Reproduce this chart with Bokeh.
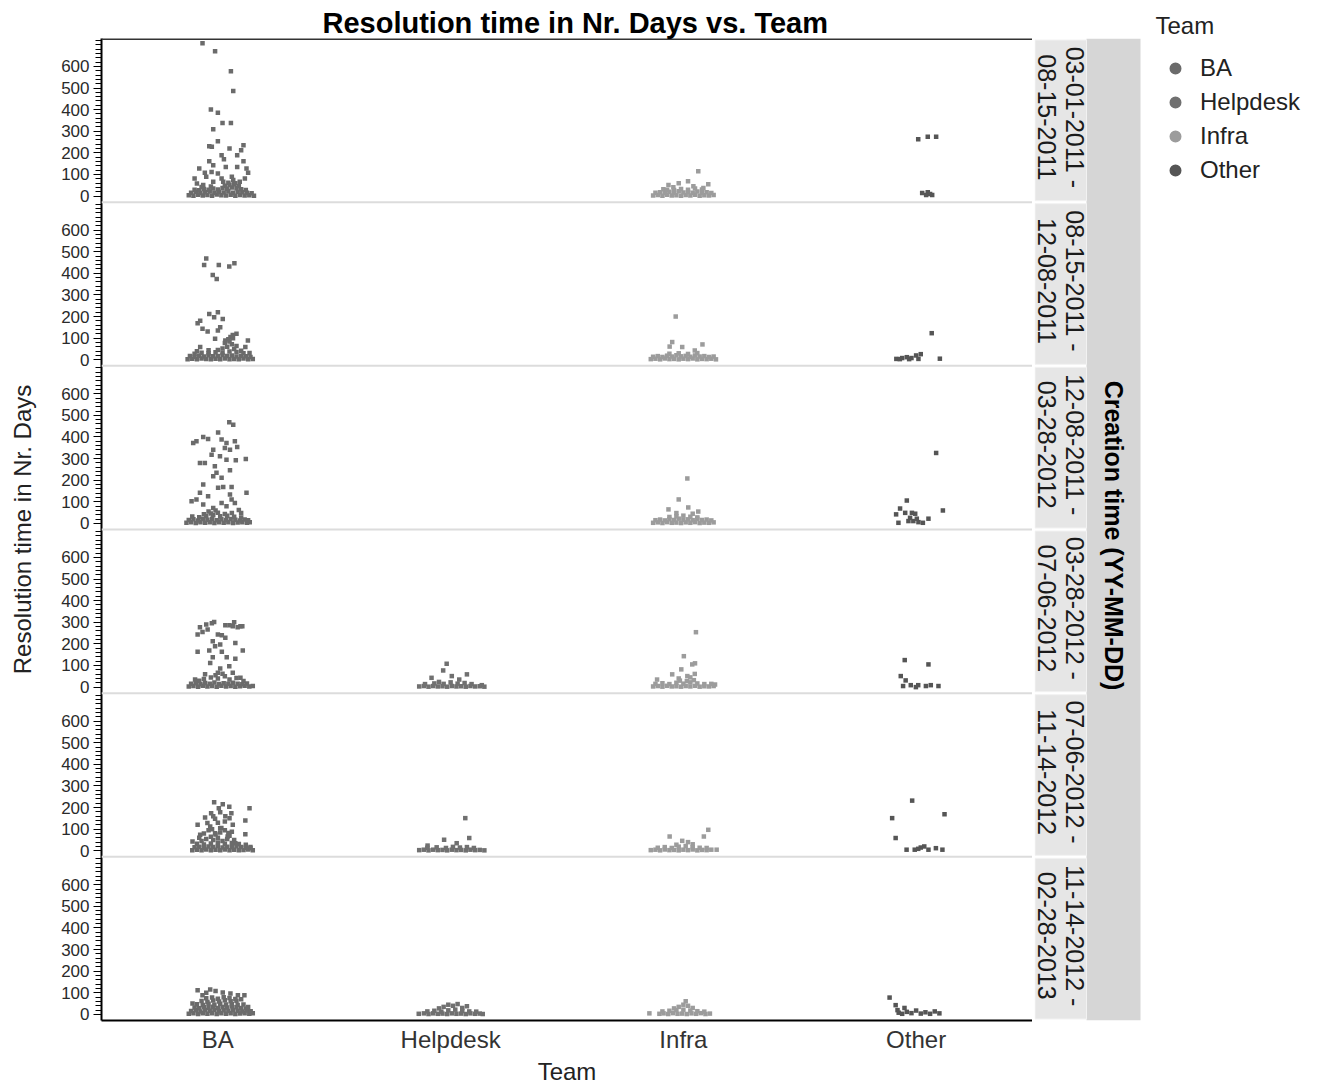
import math
from bokeh.plotting import figure
from bokeh.models import Range1d, FixedTicker, Span, Legend, LegendItem
from bokeh.layouts import row
from bokeh.embed import file_html
from bokeh.resources import INLINE
from bokeh.core.properties import value

# ---------------- data ----------------
TEAMS = ["BA", "Helpdesk", "Infra", "Other"]
TEAM_COLORS = ["#6b6b6b", "#707070", "#9c9c9c", "#555555"]
PERIODS = ["03-01-2011 -\n08-15-2011", "08-15-2011 -\n12-08-2011", "12-08-2011 -\n03-28-2012",
           "03-28-2012 -\n07-06-2012", "07-06-2012 -\n11-14-2012", "11-14-2012 -\n02-28-2013"]
Y_TICKS = [0, 100, 200, 300, 400, 500, 600]
Y_MINOR = list(range(0, 721, 20))

# (jitter in category units, resolution days)
P1_BA = [(-0.066,707),(-0.012,670),(0.056,578),(0.066,486),(-0.03,401),(0.0,386),(0.02,338),(0.056,338),
         (-0.02,309),(-0.037,231),(-0.026,228),(0.0,254),(0.05,220),(0.11,235),(0.10,212),(0.016,189),
         (0.026,171),(0.083,189),(-0.037,161),(0.11,161),(-0.08,128),(-0.02,143),(0.034,135),(0.083,135),
         (0.123,128),(-0.056,108),(-0.027,112),(0.0,105),(0.13,108),(-0.10,82),(-0.05,89),(0.016,82),
         (0.06,89),(0.116,82),(-0.09,58),(-0.063,51),(-0.02,66),(0.023,66),(0.066,74),(0.094,66)]
P1_BA_BASE = [(-0.125,4),(-0.105,2),(-0.085,6),(-0.065,3),(-0.045,5),(-0.025,2),(-0.005,7),(0.015,4),
              (0.035,3),(0.055,6),(0.075,2),(0.095,5),(0.115,3),(0.135,4),(0.155,2),
              (-0.115,16),(-0.095,20),(-0.075,14),(-0.055,18),(-0.035,21),(-0.015,15),(0.005,19),(0.025,17),
              (0.045,22),(0.065,16),(0.085,20),(0.105,18),(0.125,15),(0.145,13),
              (-0.10,30),(-0.08,27),(-0.06,33),(-0.04,29),(-0.02,35),(0.0,31),(0.02,38),(0.04,34),
              (0.06,40),(0.08,36),(0.10,32),(0.12,28),
              (0.03,48),(0.05,52),(0.07,55),(0.09,46),(0.045,62),(0.075,60),(-0.03,45),(-0.07,42)]
P1_IN = [(0.064,115),(0.02,69),(-0.02,60),(-0.064,51),(0.107,55),(0.043,46),(-0.086,32),(0.086,37),(-0.043,41),
         (-0.13,3),(-0.11,5),(-0.09,2),(-0.07,6),(-0.05,3),(-0.03,4),(-0.01,2),(0.01,5),(0.03,3),(0.05,6),
         (0.07,2),(0.09,4),(0.11,3),(0.13,5),
         (-0.12,15),(-0.10,18),(-0.08,14),(-0.06,20),(-0.04,16),(-0.02,22),(0.0,17),(0.02,19),(0.04,15),
         (0.06,21),(0.08,16),(0.10,18),(0.12,14),
         (-0.07,30),(-0.04,28),(-0.01,33),(0.02,29),(0.05,35),(0.08,31)]
P1_OT = [(0.009,263),(0.05,275),(0.086,275),(0.026,14),(0.05,18),(0.069,5),(0.043,5),(0.06,10)]

P2_BA = [(-0.05,469),(-0.059,438),(0.004,438),(0.049,431),(0.071,446),(-0.022,392),(-0.005,374),(-0.037,212),
         (0.0,220),(-0.016,197),(0.021,189),(-0.076,181),(-0.087,169),(-0.066,143),(-0.044,131),(0.0,135),
         (0.01,151),(-0.012,97),(0.064,115),(0.129,89),(0.032,89),(-0.076,59),(0.118,59),(0.136,31),
         (0.054,105),(0.08,120)]
P2_BA_BASE = [(-0.13,3),(-0.11,5),(-0.09,2),(-0.07,6),(-0.05,4),(-0.03,2),(-0.01,5),(0.01,3),(0.03,6),
              (0.05,2),(0.07,4),(0.09,3),(0.11,6),(0.13,2),(0.15,4),
              (-0.12,17),(-0.10,14),(-0.08,19),(-0.06,15),(-0.04,21),(-0.02,16),(0.0,18),(0.02,22),(0.04,17),
              (0.06,20),(0.08,15),(0.10,19),(0.12,16),(0.14,13),
              (-0.10,28),(-0.07,32),(-0.04,30),(-0.01,35),(0.02,33),(0.05,38),(0.08,36),(0.11,30),
              (0.0,45),(0.02,52),(0.04,60),(0.06,72),(0.08,64),(0.05,85),(0.03,78),(0.07,50),(-0.04,44),
              (-0.09,40),(0.10,42),(0.045,95),(0.065,100)]
P2_IN = [(-0.033,200),(-0.048,82),(-0.059,61),(0.082,71),(-0.005,59),(0.049,43),
         (-0.14,3),(-0.12,5),(-0.10,2),(-0.08,6),(-0.06,3),(-0.04,4),(-0.02,2),(0.0,5),(0.02,3),(0.04,6),
         (0.06,2),(0.08,4),(0.10,3),(0.12,5),(0.14,2),
         (-0.13,14),(-0.11,17),(-0.09,13),(-0.07,19),(-0.05,15),(-0.03,21),(-0.01,16),(0.01,18),(0.03,14),
         (0.05,20),(0.07,15),(0.09,17),(0.11,13),(0.13,15),
         (-0.06,28),(-0.02,30),(0.02,27),(0.06,31)]
P2_OT = [(0.067,123),(0.102,5),(-0.085,4),(-0.06,8),(-0.04,12),(-0.02,8),(0.0,20),(0.02,26),(-0.07,3),
         (-0.03,3),(0.01,4)]

P3_BA = [(0.049,468),(0.066,457),(0.001,421),(-0.063,400),(-0.042,391),(-0.092,380),(-0.106,372),(0.016,388),
         (0.037,372),(0.073,380),(0.083,354),(0.03,349),(-0.02,341),(0.052,341),(-0.027,318),(0.009,311),
         (0.037,295),(0.077,292),(0.12,298),(-0.077,280),(-0.056,280),(-0.013,264),(0.052,246),(-0.006,234),
         (-0.02,218),(0.016,211),(-0.063,180),(0.001,165),(0.023,169),(0.059,169),(0.123,142),(-0.077,142),
         (-0.042,126),(-0.092,111),(-0.113,103),(0.052,134),(0.073,95),(-0.063,88),(0.016,95),(0.037,80),
         (-0.02,72),(0.059,111),(-0.01,60),(-0.04,55),(0.09,62),(0.10,48)]
P3_BA_BASE = [(-0.135,3),(-0.115,5),(-0.095,2),(-0.075,6),(-0.055,3),(-0.035,5),(-0.015,2),(0.005,6),
              (0.025,3),(0.045,5),(0.065,2),(0.085,4),(0.105,6),(0.125,3),(0.137,5),
              (-0.125,16),(-0.105,19),(-0.085,14),(-0.065,20),(-0.045,17),(-0.025,22),(-0.005,15),(0.015,19),
              (0.035,16),(0.055,21),(0.075,17),(0.095,14),(0.115,18),(0.13,15),
              (-0.11,32),(-0.08,29),(-0.05,34),(-0.02,38),(0.01,33),(0.04,36),(0.07,31),(0.10,28),
              (-0.03,46),(0.0,50),(0.03,44),(0.06,48),(-0.06,42)]
P3_IN = [(0.017,208),(-0.02,111),(0.021,74),(-0.064,65),(0.064,55),(0.04,45),(-0.03,48),
         (-0.13,3),(-0.11,5),(-0.09,2),(-0.07,6),(-0.05,3),(-0.03,4),(-0.01,2),(0.01,5),(0.03,3),(0.05,6),
         (0.07,2),(0.09,4),(0.11,3),(0.13,5),
         (-0.12,15),(-0.10,18),(-0.08,14),(-0.06,20),(-0.04,16),(-0.02,22),(0.0,17),(0.02,19),(0.04,15),
         (0.06,21),(0.08,16),(0.10,18),(0.12,14),
         (-0.06,30),(-0.03,33),(0.0,36),(0.03,31),(0.06,28)]
P3_OT = [(0.086,326),(0.115,60),(-0.04,106),(-0.069,69),(-0.086,42),(-0.047,49),(-0.018,49),(-0.004,45),
         (-0.026,26),(-0.033,11),(-0.012,11),(0.01,6),(0.029,3),(0.053,22),(-0.076,3),(0.003,22)]

P4_BA = [(-0.016,301),(0.032,286),(0.064,281),(0.097,281),(-0.044,266),(-0.087,243),(-0.066,255),(0.0,243),
         (0.032,228),(0.075,204),(-0.022,212),(0.01,197),(-0.012,189),(-0.087,163),(-0.037,169),(0.107,169),
         (0.017,163),(-0.022,138),(0.038,138),(0.075,131),(-0.033,112),(0.049,97),(0.01,86),(-0.055,59),
         (0.0,66),(0.064,66),(-0.098,35),(0.097,43),(0.05,286),(0.085,277),(0.105,281),(-0.077,277),
         (-0.026,295),(0.017,240),(-0.05,290),(0.07,300)]
P4_BA_BASE = [(-0.125,3),(-0.105,5),(-0.085,2),(-0.065,6),(-0.045,3),(-0.025,5),(-0.005,2),(0.015,6),
              (0.035,3),(0.055,5),(0.075,2),(0.095,4),(0.115,6),(0.135,3),(0.15,5),
              (-0.115,15),(-0.095,18),(-0.075,13),(-0.055,19),(-0.035,16),(-0.015,21),(0.005,14),(0.025,18),
              (0.045,15),(0.065,20),(0.085,16),(0.105,13),(0.125,17),
              (0.0,40),(0.03,50),(-0.03,45),(0.05,35),(-0.06,38),(0.08,42),(0.02,62),(-0.01,55),
              (-0.08,30),(0.11,28)]
P4_HD = [(-0.017,108),(-0.032,77),(0.005,51),(0.07,59),(-0.082,43),(0.037,35),(0.134,9),
         (-0.135,3),(-0.115,5),(-0.095,2),(-0.075,5),(-0.055,3),(-0.035,4),(-0.015,2),(0.005,5),(0.025,3),
         (0.045,4),(0.065,2),(0.085,5),(0.105,3),(0.125,4),(0.145,2),
         (-0.11,14),(-0.07,17),(-0.03,15),(0.0,22),(0.03,16),(0.06,19),(0.09,14),(-0.05,24)]
P4_IN = [(0.054,254),(0.002,143),(0.038,105),(0.05,110),(-0.009,82),(-0.048,59),(0.049,61),(-0.113,35),
         (0.017,51),(0.136,12),(0.03,45),(-0.02,40),
         (-0.13,3),(-0.11,5),(-0.09,2),(-0.07,6),(-0.05,3),(-0.03,4),(-0.01,2),(0.01,5),(0.03,3),(0.05,6),
         (0.07,2),(0.09,4),(0.11,3),(0.13,5),
         (-0.12,15),(-0.09,18),(-0.06,14),(-0.03,20),(0.0,16),(0.03,22),(0.06,17),(0.09,14),(0.12,15),
         (0.045,32),(0.015,28),(-0.015,30)]
P4_OT = [(-0.049,125),(0.053,105),(-0.066,51),(-0.045,31),(-0.056,5),(-0.023,9),(0.009,9),(0.042,5),
         (0.063,9),(0.096,5),(-0.001,0)]

P5_BA = [(-0.016,225),(0.021,215),(0.049,204),(0.136,197),(0.004,197),(-0.029,174),(0.01,178),(0.058,174),
         (-0.055,154),(-0.012,148),(0.118,140),(0.032,160),(-0.087,120),(-0.033,112),(0.01,104),(0.064,120),
         (0.118,77),(-0.076,74),(-0.012,81),(0.042,66),(-0.109,43),(0.075,35),(0.14,12),(0.0,130),(0.03,135),
         (-0.045,128),(0.05,150),(-0.02,160),
         (-0.07,45),(-0.05,55),(-0.03,65),(-0.01,75),(0.01,85),(0.03,95),(0.05,70),(0.07,50),(-0.06,80),
         (-0.04,95),(-0.02,50),(0.0,60),(0.02,45),(0.04,55),(0.06,88),(-0.08,60),(0.015,105),(-0.025,100),
         (0.045,82)]
P5_BA_BASE = [(-0.11,3),(-0.09,5),(-0.07,2),(-0.05,6),(-0.03,3),(-0.01,5),(0.01,2),(0.03,6),(0.05,3),
              (0.07,5),(0.09,2),(0.11,4),(0.13,6),(0.15,3),
              (-0.10,16),(-0.08,19),(-0.06,14),(-0.04,20),(-0.02,17),(0.0,22),(0.02,15),(0.04,19),(0.06,16),
              (0.08,21),(0.10,17),(0.12,14),(0.14,18),
              (-0.09,32),(-0.06,29),(-0.03,34),(0.0,38),(0.03,33),(0.06,36),(0.09,31),(0.12,28)]
P5_HD = [(0.063,151),(0.08,59),(-0.028,51),(0.026,35),(-0.099,24),
         (-0.135,3),(-0.115,5),(-0.095,2),(-0.075,5),(-0.055,3),(-0.035,4),(-0.015,2),(0.005,5),(0.025,3),
         (0.045,4),(0.065,2),(0.085,5),(0.105,3),(0.125,4),(0.145,2),
         (-0.10,14),(-0.06,16),(-0.02,13),(0.01,18),(0.04,15),(0.07,17),(0.10,13)]
P5_IN = [(0.107,97),(0.088,66),(-0.059,66),(-0.005,46),(0.143,5),(0.02,40),(0.04,30),(-0.03,28),
         (-0.14,3),(-0.12,5),(-0.10,2),(-0.08,6),(-0.06,3),(-0.04,4),(-0.02,2),(0.0,5),(0.02,3),(0.04,6),
         (0.06,2),(0.08,4),(0.10,3),(0.12,5),
         (-0.11,14),(-0.08,17),(-0.05,13),(-0.02,19),(0.01,22),(0.04,16),(0.07,14),(0.10,13)]
P5_OT = [(-0.017,232),(0.122,169),(-0.103,151),(-0.088,59),(-0.041,5),(-0.006,5),(0.02,15),(0.035,20),
         (0.053,5),(0.085,12),(0.113,5),(0.009,9)]

P6_BA = [(-0.087,112),(-0.033,115),(-0.01,108),(0.021,101),(0.054,97),(0.086,89),(0.114,89),(-0.066,89),
         (-0.109,51),(0.13,35),(0.14,15),(0.10,70),(-0.05,100)]
P6_BA_BASE = [(-0.125,3),(-0.105,5),(-0.085,2),(-0.065,6),(-0.045,3),(-0.025,5),(-0.005,2),(0.015,6),
              (0.035,3),(0.055,5),(0.075,2),(0.095,4),(0.115,6),(0.135,3),(0.15,5),
              (-0.115,16),(-0.095,19),(-0.075,14),(-0.055,20),(-0.035,17),(-0.015,22),(0.005,15),(0.025,19),
              (0.045,16),(0.065,21),(0.085,17),(0.105,14),(0.125,18),(0.14,15),
              (-0.10,32),(-0.08,29),(-0.06,34),(-0.04,31),(-0.02,36),(0.0,30),(0.02,35),(0.04,32),(0.06,37),
              (0.08,33),(0.10,30),(0.12,28),
              (-0.09,47),(-0.065,44),(-0.04,49),(-0.015,45),(0.01,50),(0.035,46),(0.06,48),(0.085,44),(0.11,46),
              (-0.07,62),(-0.045,58),(-0.02,64),(0.005,60),(0.03,66),(0.055,61),(0.08,63),
              (-0.05,75),(-0.025,78),(0.0,73),(0.025,80),(0.05,76),(0.075,72)]
P6_HD = [(-0.03,35),(-0.01,45),(0.01,40),(0.03,48),(0.05,30),(0.07,38),(-0.05,28),
         (-0.137,3),(-0.115,5),(-0.095,2),(-0.075,5),(-0.055,3),(-0.035,4),(-0.015,2),(0.005,5),(0.025,3),
         (0.045,4),(0.065,2),(0.085,5),(0.105,3),(0.125,4),(0.138,2),
         (-0.10,14),(-0.07,17),(-0.04,13),(-0.01,19),(0.02,22),(0.05,16),(0.08,14),(0.11,13)]
P6_IN = [(-0.02,35),(0.0,45),(0.01,61),(0.02,40),(0.04,30),(-0.04,28),(-0.146,5),
         (-0.103,3),(-0.085,5),(-0.065,2),(-0.045,6),(-0.025,3),(-0.005,4),(0.015,2),(0.035,5),(0.055,3),
         (0.075,6),(0.095,2),(0.114,4),
         (-0.09,14),(-0.06,17),(-0.03,20),(0.0,22),(0.03,18),(0.06,15),(0.09,13)]
P6_OT = [(-0.114,78),(-0.088,43),(-0.08,20),(-0.075,8),(-0.06,3),(-0.04,12),(-0.02,6),(0.0,18),(0.02,4),
         (0.04,10),(0.06,3),(0.08,14),(0.10,5),(-0.05,30)]

CLUSTERS = {
    (0, "BA"): P1_BA + P1_BA_BASE, (0, "Infra"): P1_IN, (0, "Other"): P1_OT,
    (1, "BA"): P2_BA + P2_BA_BASE, (1, "Infra"): P2_IN, (1, "Other"): P2_OT,
    (2, "BA"): P3_BA + P3_BA_BASE, (2, "Infra"): P3_IN, (2, "Other"): P3_OT,
    (3, "BA"): P4_BA + P4_BA_BASE, (3, "Helpdesk"): P4_HD, (3, "Infra"): P4_IN, (3, "Other"): P4_OT,
    (4, "BA"): P5_BA + P5_BA_BASE, (4, "Helpdesk"): P5_HD, (4, "Infra"): P5_IN, (4, "Other"): P5_OT,
    (5, "BA"): P6_BA + P6_BA_BASE, (5, "Helpdesk"): P6_HD, (5, "Infra"): P6_IN, (5, "Other"): P6_OT,
}

# ---------------- layout constants ----------------
PANEL_LOW, PANEL_HIGH = -28, 729
SPAN = PANEL_HIGH - PANEL_LOW
NP = len(PERIODS)
Y0, Y1 = PANEL_LOW, (NP - 1) * SPAN + PANEL_HIGH
FRAME_TOP, FRAME_BOTTOM, H = 38, 1020, 1088
UPP = (Y1 - Y0) / (FRAME_BOTTOM - FRAME_TOP)


def offset(k):
    return (NP - 1 - k) * SPAN


FONT = "Liberation Sans"

p = figure(width=1032, height=H, x_range=Range1d(0.5, 4.5), y_range=Range1d(Y0, Y1),
           output_backend="svg", toolbar_location=None,
           min_border_left=101, min_border_right=0, min_border_top=FRAME_TOP,
           min_border_bottom=H - FRAME_BOTTOM, title="Resolution time in Nr. Days vs. Team")
p.title.text_font = FONT
p.title.text_font_size = "29px"
p.title.text_font_style = "bold"
p.title.text_color = "black"
p.title.align = "left"
p.title.offset = 221
p.title.standoff = 0
p.outline_line_color = None
p.xgrid.visible = False
p.ygrid.visible = False
p.background_fill_color = "white"
p.border_fill_color = "white"

# x axis
p.xaxis.ticker = FixedTicker(ticks=[1, 2, 3, 4])
p.xaxis.major_label_overrides = {i + 1: t for i, t in enumerate(TEAMS)}
p.xaxis.major_tick_out = 0
p.xaxis.major_tick_in = 0
p.xaxis.minor_tick_out = 0
p.xaxis.minor_tick_in = 0
p.xaxis.axis_line_width = 2
p.xaxis.axis_line_color = "black"
p.xaxis.major_label_text_font = FONT
p.xaxis.major_label_text_font_size = "24px"
p.xaxis.major_label_text_color = "#333333"
p.xaxis.major_label_standoff = 5
p.xaxis.axis_label = "Team"
p.xaxis.axis_label_text_font = FONT
p.xaxis.axis_label_text_font_size = "24px"
p.xaxis.axis_label_text_font_style = "normal"
p.xaxis.axis_label_text_color = "#222222"
p.xaxis.axis_label_standoff = 2

# y axis, one set of ticks per panel
majors, minors, overrides = [], [], {}
for k in range(NP):
    off = offset(k)
    for v in Y_TICKS:
        majors.append(off + v)
        overrides[off + v] = str(v)
    for v in Y_MINOR:
        minors.append(off + v)
p.yaxis.ticker = FixedTicker(ticks=majors, minor_ticks=minors)
p.yaxis.major_label_overrides = overrides
p.yaxis.major_tick_out = 8
p.yaxis.major_tick_in = 0
p.yaxis.minor_tick_out = 6
p.yaxis.minor_tick_in = 0
p.yaxis.major_tick_line_color = "black"
p.yaxis.minor_tick_line_color = "black"
p.yaxis.axis_line_width = 2
p.yaxis.axis_line_color = "black"
p.yaxis.major_label_text_font = FONT
p.yaxis.major_label_text_font_size = "17px"
p.yaxis.major_label_text_color = "#2a2a2a"
p.yaxis.major_label_standoff = 4
p.yaxis.axis_label = "Resolution time in Nr. Days"
p.yaxis.axis_label_text_font = FONT
p.yaxis.axis_label_text_font_size = "24px"
p.yaxis.axis_label_text_font_style = "normal"
p.yaxis.axis_label_text_color = "#222222"
p.yaxis.axis_label_standoff = 22

# panel separators and top border
for k in range(1, NP):
    p.add_layout(Span(location=offset(k - 1) + PANEL_LOW, dimension="width",
                      line_color="#dcdcdc", line_width=2))
p.add_layout(Span(location=Y1, dimension="width", line_color="#333333", line_width=3))

# points
for t_i, team in enumerate(TEAMS):
    xs, ys = [], []
    for k in range(NP):
        for j, v in CLUSTERS.get((k, team), []):
            xs.append(t_i + 1 + j)
            ys.append(offset(k) + v)
    p.scatter(xs, ys, marker="square", size=4.5, fill_color=TEAM_COLORS[t_i], line_color=None)

# ---------------- strips + legend (frame is aligned with the main one by the row) ----------------
q = figure(width=288, height=H, x_range=Range1d(0, 286), y_range=p.y_range,
           output_backend="svg", toolbar_location=None,
           x_axis_location=None, y_axis_location=None,
           min_border_left=2, min_border_right=0, min_border_top=FRAME_TOP,
           min_border_bottom=H - FRAME_BOTTOM, title="Team")
q.title.text_font = FONT
q.title.text_font_size = "24px"
q.title.text_font_style = "normal"
q.title.text_color = "#222222"
q.title.align = "left"
q.title.offset = 121
q.title.standoff = 0
q.outline_line_color = None
q.xgrid.visible = False
q.ygrid.visible = False
q.background_fill_color = "white"
q.border_fill_color = "white"

q.quad(left=[52], right=[106], bottom=[Y0], top=[Y1], fill_color="#d6d6d6", line_color=None)
gap = 1.5 * UPP
q.quad(left=[0.5] * NP, right=[52] * NP,
       bottom=[offset(k) + PANEL_LOW + gap for k in range(NP)],
       top=[offset(k) + PANEL_HIGH - gap for k in range(NP)],
       fill_color="#e6e6e6", line_color="#f2f2f2", line_width=1)
q.text(x=[26] * NP, y=[offset(k) + (PANEL_LOW + PANEL_HIGH) / 2 for k in range(NP)], text=PERIODS,
       angle=-math.pi / 2, text_align="center", text_baseline="middle", y_offset=-3,
       text_font=value(FONT), text_font_size="25px", text_line_height=1.0, text_color="#1a1a1a")
q.text(x=[79], y=[(Y0 + Y1) / 2], text=["Creation time (YY-MM-DD)"], angle=-math.pi / 2,
       text_align="center", text_baseline="middle", text_font=value(FONT), y_offset=6,
       text_font_size="25px", text_font_style="bold", text_color="black")

items = []
for t_i, team in enumerate(TEAMS):
    r = q.scatter(x=[float("nan")], y=[float("nan")], marker="circle", size=5,
                  fill_color=TEAM_COLORS[t_i], line_color=None)
    items.append(LegendItem(label=team, renderers=[r]))
legend = Legend(items=items, location=(121, 835))
legend.margin = 0
legend.padding = 17
legend.glyph_width = 40
legend.glyph_height = 30
legend.label_height = 30
legend.spacing = 4
legend.label_standoff = 5
legend.label_text_font = FONT
legend.label_text_font_size = "24px"
legend.label_text_color = "#222222"
legend.border_line_color = None
legend.background_fill_alpha = 0
q.add_layout(legend)

layout = row(p, q)
open("out.html", "w").write(file_html(layout, INLINE))
